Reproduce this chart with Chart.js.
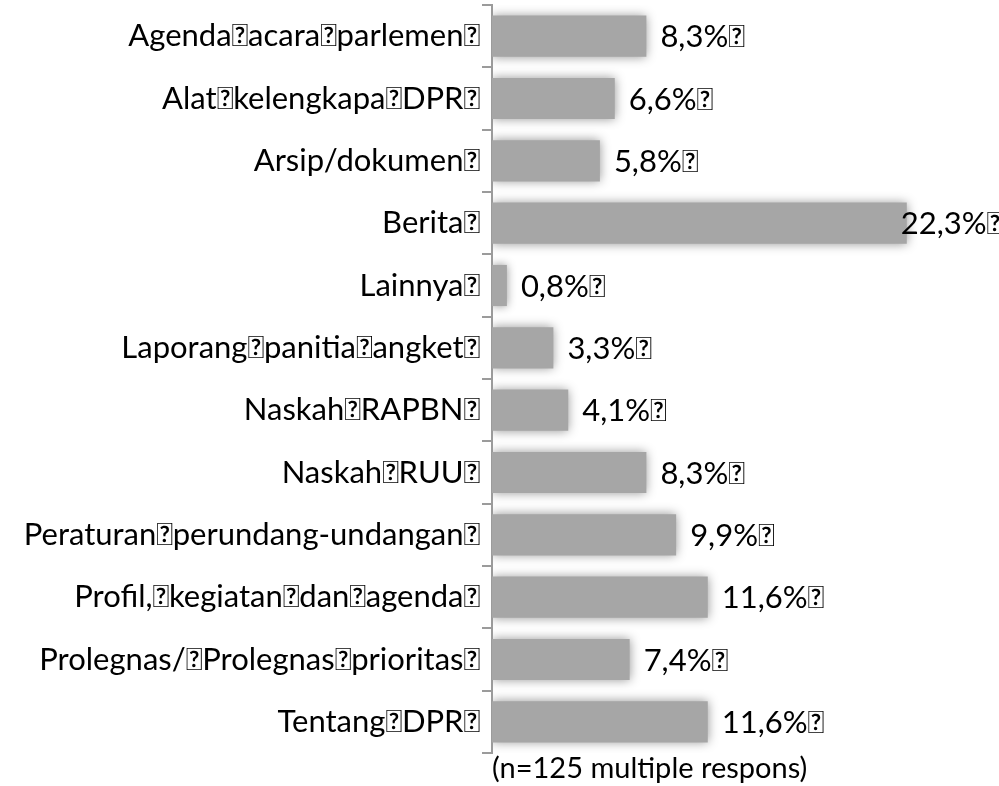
<!DOCTYPE html>
<html>
<head>
<meta charset="utf-8">
<script src="https://cdn.jsdelivr.net/npm/chart.js@4/dist/chart.umd.min.js"></script>
<style>
  html, body { margin: 0; padding: 0; background: #fff; }
  #wrap { width: 999px; height: 786px; position: relative; }
</style>
</head>
<body>
<div id="wrap"><canvas id="sumberChart"></canvas></div>
<script>
// separator glyph as it appears in the source (private-use space, shown as a box)
var SP = '\uF020';

var categories = [
  'Agenda' + SP + 'acara' + SP + 'parlemen' + SP,
  'Alat' + SP + 'kelengkapa' + SP + 'DPR' + SP,
  'Arsip/dokumen' + SP,
  'Berita' + SP,
  'Lainnya' + SP,
  'Laporang' + SP + 'panitia' + SP + 'angket' + SP,
  'Naskah' + SP + 'RAPBN' + SP,
  'Naskah' + SP + 'RUU' + SP,
  'Peraturan' + SP + 'perundang-undangan' + SP,
  'Profil,' + SP + 'kegiatan' + SP + 'dan' + SP + 'agenda' + SP,
  'Prolegnas/' + SP + 'Prolegnas' + SP + 'prioritas' + SP,
  'Tentang' + SP + 'DPR' + SP
];
var percentages = [8.3, 6.6, 5.8, 22.3, 0.8, 3.3, 4.1, 8.3, 9.9, 11.6, 7.4, 11.6];
var noteText = '(n=125 multiple respons)';

var FONT = 'Lato, "Liberation Sans", sans-serif';

// soft edge on the bars
var softBars = {
  id: 'softBars',
  beforeDatasetsDraw: function (chart) {
    var ctx = chart.ctx;
    ctx.save();
    ctx.shadowColor = 'rgba(150,150,150,1)';
    ctx.shadowBlur = 10;
  },
  afterDatasetsDraw: function (chart) {
    chart.ctx.restore();
  }
};

// value labels at the end of each bar
var valueLabels = {
  id: 'valueLabels',
  afterDatasetsDraw: function (chart) {
    var ctx = chart.ctx;
    var meta = chart.getDatasetMeta(0);
    ctx.save();
    ctx.font = '31px ' + FONT;
    ctx.fillStyle = '#000';
    ctx.textBaseline = 'middle';
    ctx.textAlign = 'left';
    meta.data.forEach(function (bar, i) {
      var txt = percentages[i].toFixed(1).replace('.', ',') + '%' + SP;
      var w = ctx.measureText(txt).width;
      var x = Math.min(bar.x + 14, chart.width - w + 4);
      ctx.fillText(txt, x, bar.y + 1);
    });
    ctx.restore();
  }
};

var ctx = document.getElementById('sumberChart').getContext('2d');
var sumberChart = new Chart(ctx, {
  type: 'bar',
  data: {
    labels: categories,
    datasets: [{
      data: percentages,
      backgroundColor: '#a6a6a6',
      borderWidth: 0,
      categoryPercentage: 1,
      barPercentage: 0.66
    }]
  },
  plugins: [softBars, valueLabels],
  options: {
    indexAxis: 'y',
    responsive: true,
    maintainAspectRatio: false,
    animation: false,
    layout: {
      padding: { top: 5, right: 42, left: 0, bottom: 0 }
    },
    plugins: {
      legend: { display: false },
      tooltip: { enabled: false }
    },
    scales: {
      y: {
        offset: true,
        afterFit: function (scale) {
          scale.width = 492;
          scale.paddingTop = 0;
          scale.paddingBottom = 0;
        },
        grid: {
          display: true,
          drawOnChartArea: false,
          offset: true,
          tickLength: 10,
          color: '#9b9b9b',
          lineWidth: 2
        },
        border: { display: true, color: '#9b9b9b', width: 2 },
        ticks: {
          color: '#000',
          padding: 2,
          font: { family: FONT, size: 31 }
        }
      },
      x: {
        min: 0,
        max: 25,
        afterFit: function (scale) { scale.height = 33; },
        grid: { display: false },
        border: { display: false },
        ticks: { display: false },
        title: {
          display: true,
          text: noteText,
          align: 'start',
          color: '#000',
          padding: { top: 0, bottom: 0 },
          font: { family: FONT, size: 29 }
        }
      }
    }
  }
});
</script>
</body>
</html>
